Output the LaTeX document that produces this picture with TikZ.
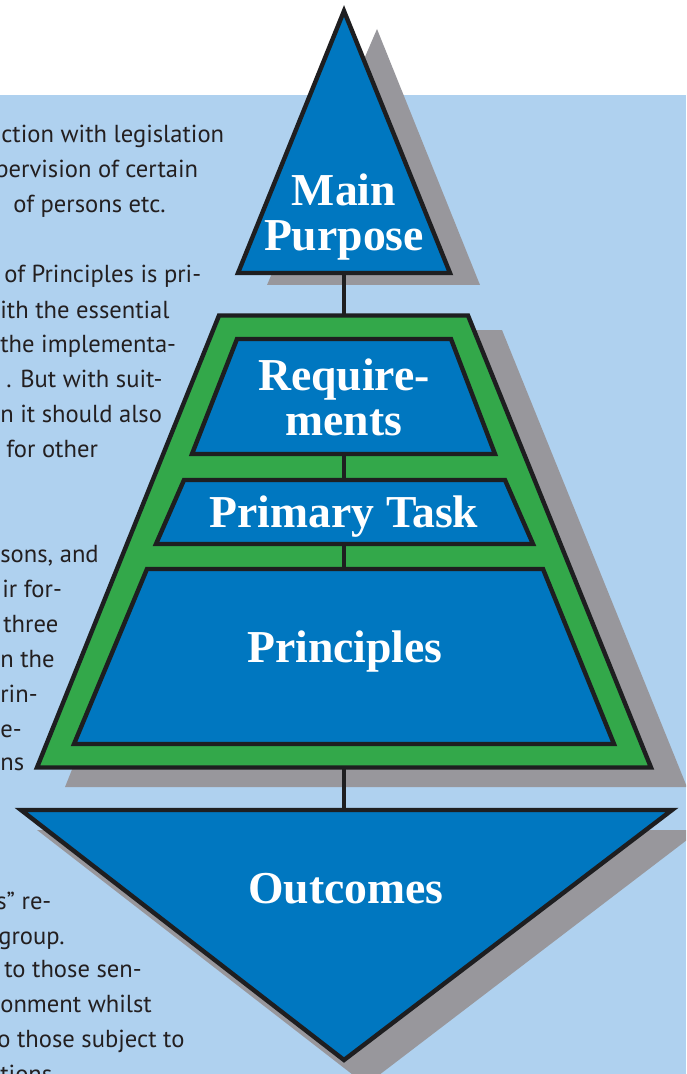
\documentclass[tikz,border=0pt]{standalone}
\usepackage{fontspec}
\newfontfamily\bodyfont{PT Sans}
\newfontfamily\labelfont{Liberation Serif}
\usetikzlibrary{positioning}
\definecolor{skyblue}{RGB}{175,209,239}
\definecolor{pyrblue}{RGB}{0,119,192}
\definecolor{pyrgreen}{RGB}{51,168,74}
\definecolor{shadegray}{RGB}{152,151,156}
\definecolor{inkblack}{RGB}{30,30,32}
\definecolor{textgray}{RGB}{35,31,32}

\begin{document}
\begin{tikzpicture}[
  x=0.02cm, y=-0.02cm,
  castshadow/.style={fill=shadegray},
  pyrframe/.style={draw=inkblack, line width=2.5pt, fill=pyrgreen},
  tier/.style={draw=inkblack, line width=2.5pt, fill=pyrblue},
  link/.style={draw=inkblack, line width=2.8pt},
  tierlabel/.style={text=white, font=\labelfont\bfseries\fontsize{26}{25.5}\selectfont, align=center, inner sep=0pt},
  bodyline/.style={text=textgray, font=\bodyfont\fontsize{14}{20}\selectfont, anchor=base west, inner sep=0pt}
]
  \clip (0,0) rectangle (686,1074);
  \fill[skyblue] (0,95) rectangle (686,1074);

  % body text beside the pyramid
  \node[bodyline] (t1) at (1,143) {ction with legislation};
  \node[bodyline] (t2) at (-5,178) {pervision of certain};
  \node[bodyline] (t3) at (13,213) {of persons etc.};
  \node[bodyline] (t4) at (4,283) {of Principles is pri-};
  \node[bodyline] (t5) at (0,318) {ith the essential};
  \node[bodyline] (t6) at (0,352) {the implementa-};
  \node[bodyline] (t7) at (6,387) {. But with suit-};
  \node[bodyline] (t8) at (0,422) {n it should also};
  \node[bodyline] (t9) at (6,457) {for other};
  \node[bodyline] (t10) at (0,562) {sons, and};
  \node[bodyline] (t11) at (2,597) {ir for-};
  \node[bodyline] (t12) at (3,632) {three};
  \node[bodyline] (t13) at (0,667) {n the};
  \node[bodyline] (t14) at (0,702) {rin-};
  \node[bodyline] (t15) at (0,737) {e-};
  \node[bodyline] (t16) at (0,770) {ns};
  \node[bodyline] (t17) at (-4,909) {s” re-};
  \node[bodyline] (t18) at (-2,944) {group.};
  \node[bodyline] (t19) at (4,977) {to those sen-};
  \node[bodyline] (t20) at (0,1012) {onment whilst};
  \node[bodyline] (t21) at (-3,1047) {o those subject to};
  \node[bodyline] (t22) at (0,1082) {tions};

  % shadows
  \fill[castshadow] (377,29) -- (480,285) -- (267,285) -- cycle;
  \fill[castshadow] (249,330) -- (502,330) -- (687,787) -- (65,787) -- cycle;
  \fill[castshadow] (37,830) -- (700,830) -- (366,1085) -- cycle;

  % connectors between the tiers
  \coordinate (purposeBase) at (344,273);
  \coordinate (frameTop) at (344,316);
  \coordinate (frameBottom) at (344,767);
  \coordinate (outcomesTop) at (344,810);
  \coordinate (requireBottom) at (344,454);
  \coordinate (taskTop) at (344,480);
  \coordinate (taskBottom) at (344,544);
  \coordinate (principlesTop) at (344,569);
  \draw[link] (purposeBase) -- (frameTop);
  \draw[link] (frameBottom) -- (outcomesTop);

  % green frame and the three tiers inside
  \draw[pyrframe] (219,315.5) -- (468,315.5) -- (651,767.5) -- (37,767.5) -- cycle;
  \draw[link] (requireBottom) -- (taskTop);
  \draw[link] (taskBottom) -- (principlesTop);
  \draw[tier] (237,339) -- (451,339) -- (495,454) -- (192,454) -- cycle;
  \draw[tier] (184,480) -- (505,480) -- (533,544) -- (156,544) -- cycle;
  \draw[tier] (147,569) -- (543,569) -- (614,744) -- (74,744) -- cycle;

  % top and bottom triangles
  \draw[tier] (344,11) -- (450,273) -- (238,273) -- cycle;
  \draw[tier] (21,810) -- (672,810) -- (344,1060) -- cycle;

  \node[tierlabel] (purpose) at (344,217) {Main\\Purpose};
  \node[tierlabel] (require) at (344,397) {Require-\\ments};
  \node[tierlabel, anchor=base] (task) at (344,527) {Primary Task};
  \node[tierlabel, anchor=base] (principles) at (345,662) {Principles};
  \node[tierlabel, anchor=base] (outcomes) at (346,903) {Outcomes};
\end{tikzpicture}
\end{document}
